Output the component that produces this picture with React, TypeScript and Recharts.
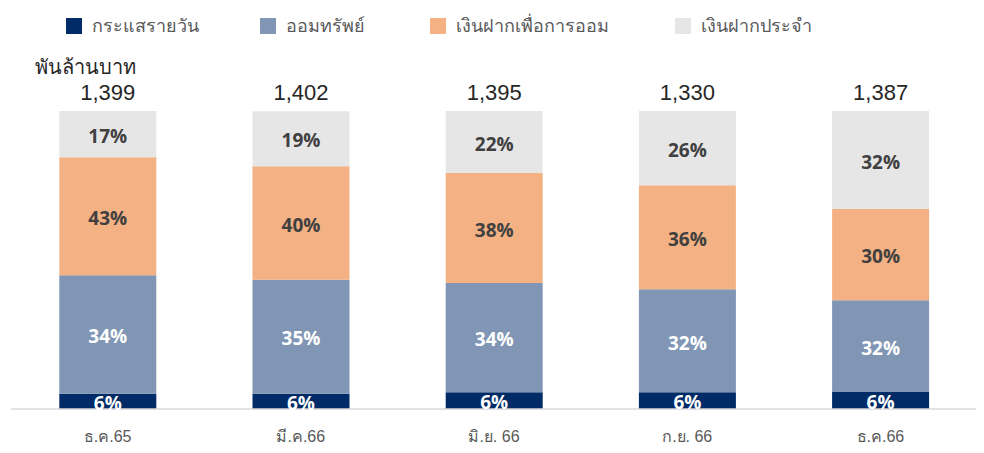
import { Bar, BarChart, LabelList, XAxis, YAxis } from "recharts";

const CATEGORIES = ["ธ.ค.65", "มี.ค.66", "มิ.ย. 66", "ก.ย. 66", "ธ.ค.66"];
const TOTALS = [1399, 1402, 1395, 1330, 1387];

// segment shares as drawn (bar heights)
const CURRENT = [5.1, 5.1, 5.6, 5.6, 5.9];
const SAVINGS = [39.8, 38.3, 36.7, 34.6, 30.6];
const SAVING_DEPOSIT = [39.6, 38.1, 36.9, 34.9, 30.6];
const FIXED = [15.5, 18.4, 20.9, 24.9, 32.9];

// printed percentage labels
const CURRENT_LABELS = [6, 6, 6, 6, 6];
const SAVINGS_LABELS = [34, 35, 34, 32, 32];
const SAVING_DEPOSIT_LABELS = [43, 40, 38, 36, 30];
const FIXED_LABELS = [17, 19, 22, 26, 32];

const SERIES = [
  { key: "current", label: "currentLabel", name: "กระแสรายวัน", color: "#002B66", text: "#ffffff" },
  { key: "savings", label: "savingsLabel", name: "ออมทรัพย์", color: "#8096B4", text: "#ffffff" },
  { key: "savingDeposit", label: "savingDepositLabel", name: "เงินฝากเพื่อการออม", color: "#F4B183", text: "#404040" },
  { key: "fixed", label: "fixedLabel", name: "เงินฝากประจำ", color: "#E6E6E6", text: "#404040" }
];

const rows = CATEGORIES.map((name, i) => ({
  name,
  total: TOTALS[i],
  current: CURRENT[i],
  savings: SAVINGS[i],
  savingDeposit: SAVING_DEPOSIT[i],
  fixed: FIXED[i],
  currentLabel: CURRENT_LABELS[i],
  savingsLabel: SAVINGS_LABELS[i],
  savingDepositLabel: SAVING_DEPOSIT_LABELS[i],
  fixedLabel: FIXED_LABELS[i]
}));

const FONT = '"Liberation Sans", Arial, sans-serif';
const LABEL_FONT = '"Open Sans", "DejaVu Sans", sans-serif';

function TopLegend() {
  const starts = [58, 252, 422, 667];
  return (
    <div style={{ position: "absolute", left: 0, top: 3, width: 976, height: 20 }}>
      {SERIES.map((s, i) => (
        <div
          key={s.key}
          style={{ position: "absolute", left: starts[i], top: 0, display: "flex", alignItems: "center", whiteSpace: "nowrap" }}
        >
          <span style={{ display: "inline-block", width: 16, height: 16, background: s.color, marginRight: 10 }} />
          <span style={{ fontFamily: FONT, fontSize: 18, color: "#595959" }}>{s.name}</span>
        </div>
      ))}
    </div>
  );
}

export default function App() {
  return (
    <div style={{ position: "relative", width: 976, height: 445 }}>
      <TopLegend />
      <div style={{ position: "absolute", left: 27, top: 43, fontFamily: FONT, fontSize: 20, color: "#262626" }}>
        พันล้านบาท
      </div>
      <BarChart
        width={976}
        height={445}
        data={rows}
        margin={{ top: 103, right: 7, bottom: 0, left: 3 }}
        barCategoryGap="25%"
      >
        <XAxis
          dataKey="name"
          height={44}
          tickLine={false}
          axisLine={{ stroke: "#D9D9D9", strokeWidth: 1.5 }}
          tickMargin={16}
          tick={{ fontFamily: FONT, fontSize: 16, fill: "#595959" }}
        />
        <YAxis hide domain={[0, 100]} allowDataOverflow />
        {SERIES.map((s, i) => (
          <Bar key={s.key} dataKey={s.key} stackId="a" fill={s.color} isAnimationActive={false}>
            <LabelList
              dataKey={s.label}
              position="center"
              dy={2}
              formatter={(v: number) => `${v}%`}
              style={{ fontFamily: LABEL_FONT, fontSize: 19, fontWeight: 700, fill: s.text }}
            />
            {i === SERIES.length - 1 ? (
              <LabelList
                dataKey="total"
                position="top"
                offset={11}
                formatter={(v: number) => v.toLocaleString("en-US")}
                style={{ fontFamily: FONT, fontSize: 22, fill: "#262626" }}
              />
            ) : null}
          </Bar>
        ))}
      </BarChart>
    </div>
  );
}
